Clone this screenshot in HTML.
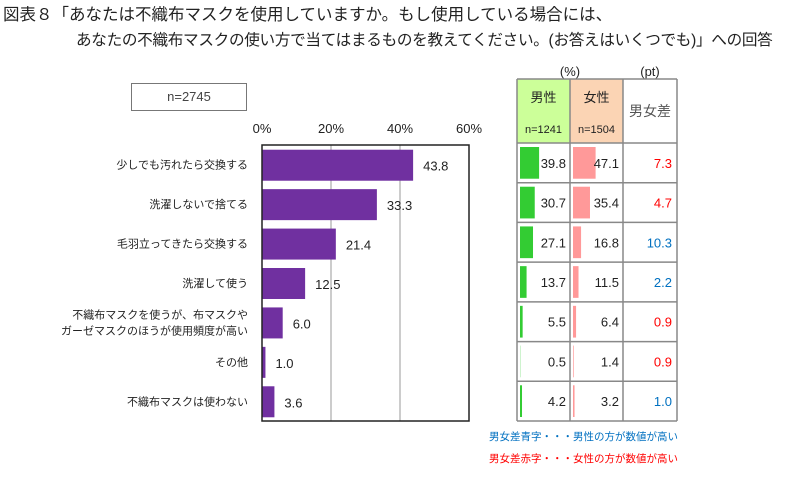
<!DOCTYPE html>
<html><head><meta charset="utf-8"><style>
body{margin:0;background:#fff;font-family:"Liberation Sans","Noto Sans CJK JP",sans-serif;}
#root{position:relative;width:810px;height:487px;overflow:hidden;}
.t{position:absolute;white-space:nowrap;}
</style></head><body>
<div id="root">
<div class="t" style="left:3px;top:1px;font-size:16.5px;color:#222;">図表８「あなたは不織布マスクを使用していますか。もし使用している場合には、</div>
<div class="t" style="left:76px;top:28px;font-size:15.6px;color:#222;letter-spacing:-0.3px;">あなたの不織布マスクの使い方で当てはまるものを教えてください。(お答えはいくつでも)」への回答</div>
<div class="t" style="left:131px;top:83px;width:114px;height:26px;border:1px solid #777;font-size:13px;line-height:26px;text-align:center;color:#444;">n=2745</div>
<svg id="svg" width="810" height="487" style="position:absolute;left:0;top:0"></svg>
</div>
<script>
const categories=["少しでも汚れたら交換する","洗濯しないで捨てる","毛羽立ってきたら交換する","洗濯して使う","不織布マスクを使うが、布マスクや|ガーゼマスクのほうが使用頻度が高い","その他","不織布マスクは使わない"];
const totalValues=[43.8,33.3,21.4,12.5,6.0,1.0,3.6];
const maleValues=[39.8,30.7,27.1,13.7,5.5,0.5,4.2];
const femaleValues=[47.1,35.4,16.8,11.5,6.4,1.4,3.2];
const diffValues=[7.3,4.7,10.3,2.2,0.9,0.9,1.0];
const xTicks=[0,20,40,60];
const NS="http://www.w3.org/2000/svg";
const svg=document.getElementById('svg');
function mk(tag,attrs,txt){const e=document.createElementNS(NS,tag);for(const k in attrs)e.setAttribute(k,attrs[k]);if(txt!==undefined)e.textContent=txt;svg.appendChild(e);return e;}
const L=262,R=469,T=145,B=421,rowH=(B-T)/categories.length;
const x=v=>L+(R-L)*v/60;
const yc=i=>T+rowH*(i+0.5);
xTicks.forEach(v=>{
  if(v>0&&v<60){const g=mk('line',{x1:x(v),x2:x(v),y1:T,y2:B,stroke:'#999','stroke-width':1});
  
  }
  const t=mk('text',{x:x(v),y:133,'font-size':13,'text-anchor':'middle',fill:'#222','font-family':'Liberation Sans, sans-serif'},v+'%');
  
  
});
categories.forEach((c,i)=>{
  const b=mk('rect',{x:L,y:yc(i)-15,width:x(totalValues[i])-L,height:31,fill:'#7030a0'});
  
  
  const v=mk('text',{x:x(totalValues[i])+10,y:yc(i)+6,'font-size':13,fill:'#222'},totalValues[i].toFixed(1));
  
  
  const parts=c.split('|');
  parts.forEach((p,j)=>{
    const t=mk('text',{x:248,y:yc(i)+4+(j-(parts.length-1)/2)*16,'font-size':11,'text-anchor':'end',fill:'#222','font-family':'Noto Sans CJK JP, sans-serif'},p);
    
    
  });
});
const frame=mk('rect',{x:L,y:T,width:R-L,height:B-T,fill:'none',stroke:'#222','stroke-width':1.5});


const c0=517,c1=570,c2=623,c3=677,hT=79,hB=143;
const hm=mk('rect',{x:c0,y:hT,width:c1-c0,height:hB-hT,fill:'#ccff99'});


const hf=mk('rect',{x:c1,y:hT,width:c2-c1,height:hB-hT,fill:'#fbd4b4'});


[['男性',(c0+c1)/2,102],['n=1241',(c0+c1)/2,133],['女性',(c1+c2)/2,102],['n=1504',(c1+c2)/2,133],['男女差',(c2+c3)/2,116],['(%)',570,76],['(pt)',650,76]].forEach(a=>{
  const t=mk('text',{x:a[1],y:a[2],'font-size':a[0]=='男女差'?14:(a[0].startsWith('n')?11:13),'text-anchor':'middle',fill:a[0]=='男女差'?'#555':'#222','font-family':'Liberation Sans, Noto Sans CJK JP, sans-serif'},a[0]);
  
  
});
const tT=hB,tRow=(B-tT)/categories.length;
categories.forEach((c,i)=>{
  const ry=tT+tRow*i;
  const gm=mk('rect',{x:c0+3,y:ry+4,width:maleValues[i]*0.48,height:tRow-8,fill:'#33cc33'});
  
  
  const gf=mk('rect',{x:c1+3,y:ry+4,width:femaleValues[i]*0.48,height:tRow-8,fill:'#ff9999'});
  
  
  const tm=mk('text',{x:c1-4,y:ry+tRow/2+5,'font-size':13,'text-anchor':'end',fill:'#222'},maleValues[i].toFixed(1));
  
  
  const tf=mk('text',{x:c2-4,y:ry+tRow/2+5,'font-size':13,'text-anchor':'end',fill:'#222'},femaleValues[i].toFixed(1));
  
  
  const blue=maleValues[i]>femaleValues[i];
  const td=mk('text',{x:c3-5,y:ry+tRow/2+5,'font-size':13,'text-anchor':'end',fill:blue?'#0070c0':'#ff0000'},diffValues[i].toFixed(1));
  
  
  const ln=mk('line',{x1:c0,x2:c3,y1:ry,y2:ry,stroke:'#888','stroke-width':1.5});
  
  
});
[c0,c1,c2,c3].forEach(cx=>{const l=mk('line',{x1:cx,x2:cx,y1:hT,y2:B,stroke:'#888','stroke-width':1.5});

});
[hT,B].forEach(yy=>{const l=mk('line',{x1:c0,x2:c3,y1:yy,y2:yy,stroke:'#888','stroke-width':1.5});

});
const n1=mk('text',{x:489,y:440,'font-size':10.5,fill:'#0070c0','font-family':'Noto Sans CJK JP, sans-serif'},'男女差青字・・・男性の方が数値が高い');


const n2=mk('text',{x:489,y:462,'font-size':10.5,fill:'#ff0000','font-family':'Noto Sans CJK JP, sans-serif'},'男女差赤字・・・女性の方が数値が高い');


</script>
</body></html>
